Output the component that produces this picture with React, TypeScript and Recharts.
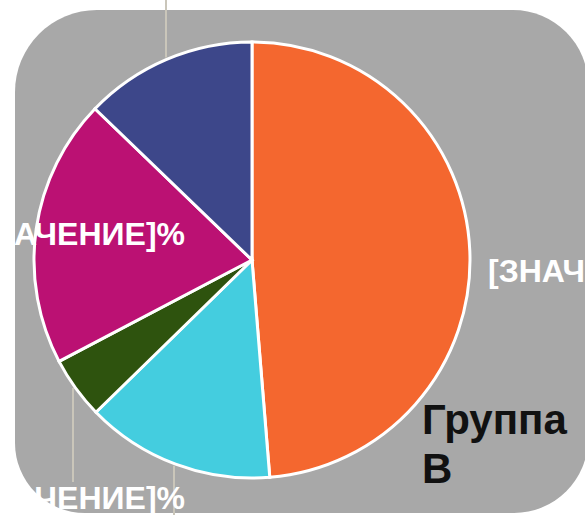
import React from "react";
import { PieChart, Pie, Cell } from "recharts";

const categories = ["Оранжевый", "Голубой", "Зелёный", "Пурпурный", "Синий"];
const values = [48.7, 14.0, 4.6, 19.9, 12.8];
const colors = ["#F4672F", "#44CDDF", "#2E530E", "#BB1173", "#3D478A"];
const labelText = "[ЗНАЧЕНИЕ]%";
const titleLines = ["Группа", "В"];

const data = categories.map((name, i) => ({ name, value: values[i] }));

// label placement relative to pie centre (per slice index)
const labelCfg = [
  { dx: 236, dy: 22, anchor: "start" },
  { dx: -78, dy: 295, anchor: "middle" },
  { dx: -67, dy: 249, anchor: "end" },
  { dx: -67, dy: -15, anchor: "end" },
  { dx: -86, dy: -280, anchor: "middle" },
];
// vertical leader lines: x offset from centre, end y offset from centre
const leaderCfg: Record<number, { dx: number; toDy: number; dir: number }> = {
  1: { dx: -78, toDy: 262, dir: 1 },
  2: { dx: -179, toDy: 222, dir: 1 },
  4: { dx: -86, toDy: -265, dir: -1 },
};

const renderLabel = (p: any) => {
  const c = labelCfg[p.index];
  return (
    <text
      x={p.cx + c.dx}
      y={p.cy + c.dy}
      textAnchor={c.anchor}
      fill="#FFFFFF"
      fontFamily="'Liberation Sans', Arial, sans-serif"
      fontWeight="bold"
      fontSize={32}
    >
      {labelText}
    </text>
  );
};

const renderLine = (p: any) => {
  const l = leaderCfg[p.index];
  if (!l) return <g />;
  const r = p.outerRadius + 2;
  const x = p.cx + l.dx;
  const y0 = p.cy + l.dir * Math.sqrt(Math.max(0, r * r - l.dx * l.dx));
  return (
    <path
      d={`M${x},${y0}L${x},${p.cy + l.toDy}`}
      stroke="#CAC6BA"
      strokeWidth={2}
      fill="none"
    />
  );
};

export default function App() {
  return (
    <div style={{ position: "absolute", left: 0, top: 0, width: 585, height: 515, overflow: "hidden", background: "#FFFFFF" }}>
      <div
        style={{
          position: "absolute",
          left: 15,
          top: 10,
          width: 573,
          height: 503,
          background: "#A8A8A8",
          borderRadius: "82px 75px 74px 70px",
        }}
      />
      <div style={{ position: "absolute", left: 0, top: 0 }}>
        <PieChart width={585} height={515} margin={{ top: 0, right: 0, bottom: 0, left: 0 }}>
          <Pie
            data={data}
            dataKey="value"
            nameKey="name"
            cx={252}
            cy={260}
            outerRadius={218}
            startAngle={90}
            endAngle={-270}
            stroke="#FFFFFF"
            strokeWidth={3}
            isAnimationActive={false}
            label={renderLabel}
            labelLine={renderLine}
          >
            {data.map((d, i) => (
              <Cell key={d.name} fill={colors[i]} />
            ))}
          </Pie>
        </PieChart>
      </div>
      <div
        style={{
          position: "absolute",
          left: 422,
          top: 395,
          fontFamily: "'Liberation Sans', Arial, sans-serif",
          fontWeight: "bold",
          fontSize: 42,
          lineHeight: "49px",
          color: "#111111",
        }}
      >
        {titleLines.map((t) => (
          <div key={t}>{t}</div>
        ))}
      </div>
    </div>
  );
}
